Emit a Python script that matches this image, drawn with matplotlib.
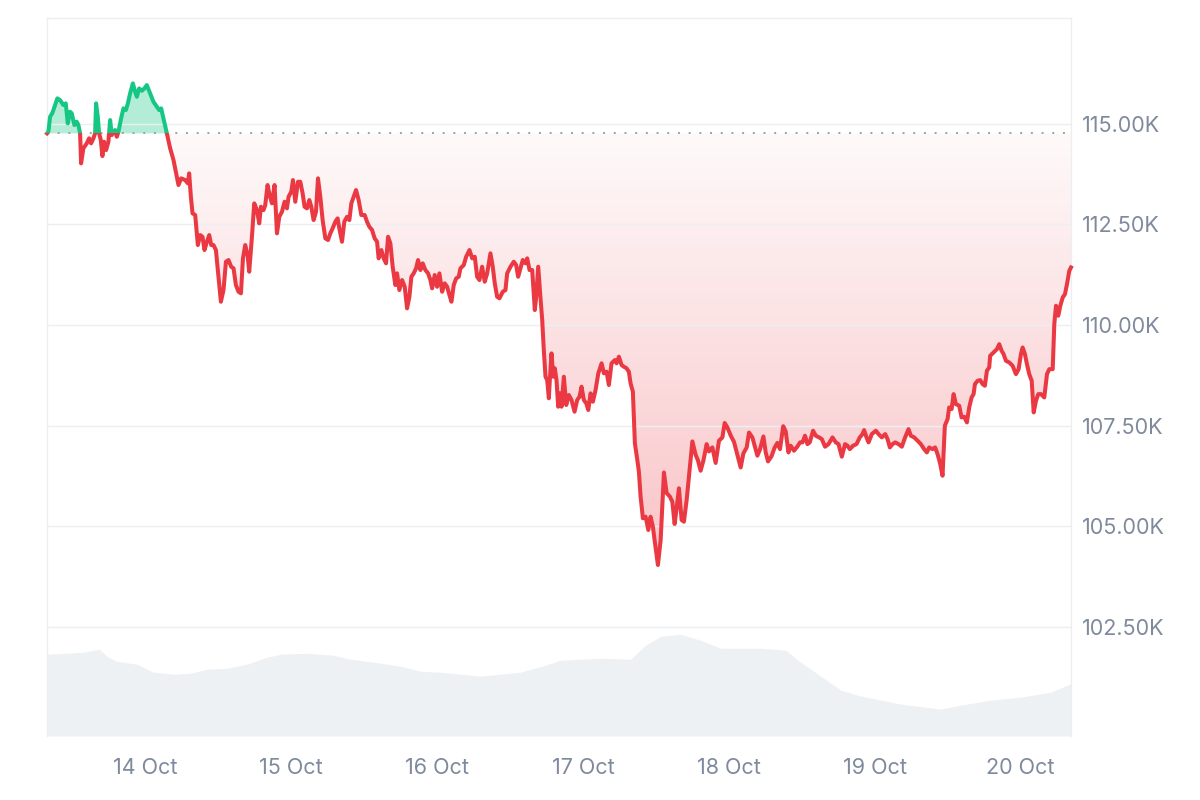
import numpy as np
import pandas as pd
import matplotlib
matplotlib.use("Agg")
import matplotlib.pyplot as plt
import matplotlib.dates as mdates
from matplotlib.patches import Rectangle
from matplotlib.colors import LinearSegmentedColormap

# price samples: hours since 13 Oct 00:00, price in USD
hours = [
    7.81, 8.03, 8.31, 8.68, 9.51, 9.95, 10.50, 10.89, 11.22, 11.60, 11.88, 12.31, 12.70, 12.97, 13.25,
    13.41, 13.79, 14.35, 14.73, 15.06, 15.44, 15.72, 15.88, 16.16, 16.38, 16.66, 16.92, 17.20, 17.53, 17.91,
    18.19, 18.47, 18.73, 19.01, 19.29, 19.56, 20.00, 20.38, 20.78, 21.11, 21.48, 21.93, 22.31, 22.59, 22.97,
    23.41, 23.84, 24.23, 24.78, 25.32, 25.88, 26.26, 26.59, 26.97, 27.53, 28.07, 28.62, 29.18, 29.44, 29.88,
    30.54, 30.99, 31.20, 31.48, 31.75, 32.19, 32.63, 33.01, 33.39, 33.72, 34.12, 34.50, 34.83, 35.20, 35.60,
    36.03, 36.42, 36.85, 37.25, 37.67, 38.12, 38.50, 38.89, 39.32, 39.72, 40.05, 40.43, 40.81, 41.08, 41.53,
    41.91, 42.35, 42.73, 43.01, 43.44, 43.72, 44.10, 44.43, 44.82, 45.25, 45.65, 46.03, 46.47, 46.90, 47.29,
    47.56, 48.00, 48.28, 48.66, 49.11, 49.49, 49.87, 50.19, 50.59, 50.97, 51.30, 51.68, 52.07, 52.40, 52.78,
    53.16, 53.61, 54.05, 54.43, 54.81, 55.25, 55.63, 55.96, 56.35, 56.73, 57.18, 57.56, 57.89, 58.27, 58.66,
    59.09, 59.53, 60.08, 60.47, 60.85, 61.30, 61.72, 62.12, 62.38, 62.83, 63.21, 63.60, 63.93, 64.31, 64.69,
    65.13, 65.41, 65.79, 66.24, 66.67, 67.06, 67.44, 67.77, 68.15, 68.54, 68.87, 69.25, 69.63, 70.07, 70.52,
    70.90, 71.18, 71.61, 72.00, 72.38, 72.83, 73.25, 73.65, 74.03, 74.36, 74.74, 75.14, 75.56, 75.84, 76.39,
    76.78, 77.33, 77.77, 78.20, 78.59, 78.97, 79.41, 79.84, 80.24, 80.78, 81.16, 81.49, 81.88, 82.26, 82.81,
    83.25, 83.53, 84.08, 84.62, 85.01, 85.34, 85.72, 86.10, 86.55, 86.83, 87.21, 87.65, 88.08, 88.31, 88.64,
    89.02, 89.30, 89.56, 89.84, 90.12, 90.39, 90.55, 90.83, 91.11, 91.37, 91.65, 91.93, 92.20, 92.48, 92.86,
    93.25, 93.68, 94.12, 94.62, 95.06, 95.44, 95.77, 96.15, 96.55, 96.88, 97.26, 97.64, 98.08, 98.53, 99.07,
    99.45, 99.89, 100.27, 100.71, 101.26, 101.54, 101.92, 102.36, 102.74, 103.18, 103.56, 103.84, 104.22, 104.55, 104.95,
    105.21, 105.49, 105.87, 106.31, 106.76, 107.13, 107.51, 107.79, 108.34, 108.79, 109.33, 109.77, 110.32, 110.71, 111.09,
    111.42, 111.80, 112.24, 112.62, 113.07, 113.45, 114.01, 114.55, 114.93, 115.37, 115.82, 116.36, 116.74, 117.30, 117.84,
    118.39, 118.95, 119.33, 119.77, 120.31, 120.86, 121.42, 121.96, 122.41, 122.95, 123.33, 123.89, 124.27, 124.71, 125.14,
    125.70, 126.08, 126.46, 127.02, 127.56, 128.00, 128.43, 128.96, 129.37, 129.82, 130.19, 130.74, 131.30, 131.73, 132.13,
    132.55, 132.95, 133.33, 133.87, 134.32, 134.86, 135.31, 135.85, 136.41, 137.07, 137.61, 138.06, 138.60, 139.14, 139.54,
    139.92, 140.46, 141.02, 141.56, 142.01, 142.27, 142.67, 143.00, 143.54, 144.20, 144.65, 145.19, 145.74, 146.13, 146.51,
    146.95, 147.38, 147.94, 148.48, 149.02, 149.58, 149.96, 150.51, 151.07, 151.61, 152.15, 152.60, 152.98, 153.53, 153.96,
    154.36, 154.74, 155.18, 155.56, 156.01, 156.27, 156.67, 157.00, 157.38, 157.92, 158.31, 158.74, 159.19, 159.57, 159.96,
    160.29, 160.51, 160.95, 161.38, 161.77, 162.15, 162.48, 162.86, 163.02, 163.58, 164.13, 164.51, 164.90, 165.23, 165.61,
    166.16, 166.71, 167.26, 167.70, 168.08, 168.36, 168.74, 169.07, 169.45, 169.85, 170.18, 170.56, 170.93, 171.38, 171.92,
    172.37, 172.75, 173.31, 173.57, 173.85, 174.23, 174.56, 174.96, 175.33, 175.66, 176.04, 176.32,
]
price = [
    114757, 114797, 115169, 115260, 115625, 115583, 115459, 115501, 115005, 115293, 115253, 114963, 115045, 114963, 114757,
    114012, 114385, 114509, 114633, 114509, 114633, 114757, 115501, 115169, 114757, 114590, 114193, 114548, 114342, 114548,
    115087, 114715, 114797, 114839, 114672, 114797, 115129, 115377, 115335, 115501, 115749, 115997, 115789, 115665, 115873,
    115814, 115873, 115955, 115749, 115541, 115417, 115335, 115377, 115129, 114757, 114385, 114094, 113680, 113474, 113640,
    113598, 113516, 113764, 113184, 112772, 112730, 111985, 112233, 112191, 111861, 112067, 112233, 111985, 111985, 111861,
    111198, 110578, 110868, 111570, 111613, 111446, 111407, 110992, 110826, 110787, 111655, 111985, 111737, 111323, 112191,
    113020, 112853, 112523, 112935, 112853, 112977, 113474, 113226, 113020, 113474, 112275, 112687, 112811, 113059, 112895,
    113184, 113308, 113598, 113059, 113556, 113556, 113268, 112935, 112895, 113102, 112935, 112605, 112811, 113640, 113184,
    112605, 112151, 112109, 112275, 112399, 112563, 112647, 112357, 112067, 112563, 112687, 112605, 113020, 113184, 113350,
    113102, 112730, 112730, 112563, 112439, 112357, 112151, 112067, 111655, 111861, 111655, 111531, 112191, 112027, 111447,
    110992, 111283, 110868, 111116, 110950, 110414, 110702, 111198, 111282, 111406, 111613, 111365, 111531, 111365, 111282,
    111116, 110910, 111241, 110950, 111282, 110826, 111034, 110950, 110745, 110578, 110992, 111158, 111198, 111406, 111489,
    111695, 111861, 111655, 111695, 111198, 111116, 111447, 111074, 111282, 111779, 111447, 111034, 110702, 110662, 110826,
    110868, 111282, 111447, 111571, 111489, 111198, 111406, 111613, 111531, 111655, 111365, 111365, 110372, 110702, 111447,
    110662, 110124, 109380, 108717, 108635, 108181, 108635, 109297, 108717, 108925, 108635, 107973, 108305, 107973, 108717,
    108015, 108263, 108139, 107848, 108139, 108221, 108469, 108139, 108057, 107891, 108305, 108097, 108387, 108801, 109050,
    108801, 108841, 108511, 109050, 109131, 109050, 109214, 109007, 108965, 108925, 108841, 108553, 108345, 107064, 106650,
    106360, 105739, 105203, 105243, 104913, 105243, 104995, 104665, 104044, 104665, 106340, 105831, 105739, 105615, 105062,
    105451, 105948, 105161, 105119, 105658, 106236, 107111, 106777, 106640, 106384, 106632, 107044, 106863, 106962, 106577,
    107129, 107211, 107569, 107459, 107260, 107099, 106774, 106464, 106816, 106960, 107332, 107208, 106999, 106757, 106913,
    107234, 106838, 106615, 106739, 106962, 107074, 106920, 107489, 107360, 106838, 107004, 106880, 106987, 107087, 107087,
    107253, 107044, 107087, 107377, 107253, 107211, 107169, 106980, 107044, 107211, 107087, 107044, 106732, 107044, 107005,
    106920, 107005, 107044, 107211, 107293, 107392, 107211, 107087, 107293, 107377, 107293, 107211, 107293, 107169, 106962,
    107044, 107087, 107044, 106980, 107211, 107417, 107253, 107211, 107129, 107044, 106920, 106838, 106962, 106920, 106962,
    106796, 106590, 106260, 107501, 107665, 107955, 107913, 108285, 108037, 107997, 107707, 107724, 107583, 107955, 108203,
    108285, 108533, 108617, 108632, 108533, 108493, 108865, 108947, 109237, 109319, 109401, 109525, 109361, 109277, 109113,
    109071, 108989, 108781, 108905, 109277, 109443, 109277, 109030, 108781, 108617, 107831, 108121, 108285, 108285, 108203,
    108781, 108905, 108905, 110022, 110478, 110230, 110478, 110685, 110767, 111015, 111347, 111429,
]

# 24h volume (billions USD)
vol_hours = [7.76, 11.06, 13.79, 16.43, 17.65, 19.29, 22.59, 25.32, 28.62, 31.37, 34.12, 37.41, 40.71, 44.00,
             46.19, 50.59, 54.97, 57.72, 61.56, 65.96, 69.25, 72.55, 79.14, 85.72, 89.84, 92.31, 98.90, 103.84,
             106.31, 108.78, 112.08, 115.37, 118.67, 125.26, 129.38, 131.85, 135.14, 138.44, 141.73, 145.02,
             148.32, 154.91, 158.20, 163.14, 168.08, 173.03, 176.49]
volume = [82, 83, 84, 87, 80, 75, 72, 64, 62, 63, 67, 68, 72, 79,
          82, 83, 81, 77, 74, 70, 65, 64, 60, 64, 71, 76, 78, 77,
          91, 100, 102, 96, 88, 88, 86, 74, 60, 46, 40, 36,
          32, 27, 31, 36, 39, 44, 53]

open_price = 114757
y_ticks = [102500, 105000, 107500, 110000, 112500, 115000]

GREEN = "#16c784"
RED = "#ea3943"
GRID = "#eceff2"
TEXT = "#808a9d"

plt.rcParams["font.family"] = ["Inter", "DejaVu Sans"]

start = pd.Timestamp("2025-10-13")
t = mdates.date2num(start + pd.to_timedelta(hours, unit="h"))
tv = mdates.date2num(start + pd.to_timedelta(vol_hours, unit="h"))
p = np.array(price, dtype=float)

fig = plt.figure(figsize=(12, 8), dpi=100)
ax = fig.add_axes([0.0392, 0.08, 0.8533, 0.8975])
ax2 = ax.twinx()

# volume in the back
ax2.fill_between(tv, volume, 0, color="#eef1f4", lw=0)
ax2.set_ylim(0, 720)
ax2.set_yticks([])
for s in ax2.spines.values():
    s.set_visible(False)
ax.set_zorder(ax2.get_zorder() + 1)
ax.patch.set_visible(False)

ymin, ymax = 99800, 117620
ax.set_ylim(ymin, ymax)
ax.set_xlim(t[0], t[-1])

# red gradient fill below the open price
fill = ax.fill_between(t, p, open_price, color="none", lw=0)
cmap = LinearSegmentedColormap.from_list(
    "redfade", [(0.918, 0.224, 0.263, 0.30), (0.918, 0.224, 0.263, 0.03)])
grad = np.linspace(0, 1, 256).reshape(-1, 1)
img = ax.imshow(grad, cmap=cmap, aspect="auto", origin="lower",
                extent=[t[0], t[-1], 104000, open_price], zorder=1)
img.set_clip_path(fill.get_paths()[0], transform=ax.transData)

# green fill above the open price
ax.fill_between(t, p, open_price, where=p >= open_price, interpolate=True,
                color=GREEN, alpha=0.32, lw=0, zorder=1)

# line, green above / red below the open price
up = ax.plot(t, p, color=GREEN, lw=2.9, zorder=3, solid_joinstyle="round")[0]
dn = ax.plot(t, p, color=RED, lw=2.9, zorder=3, solid_joinstyle="round")[0]
up.set_clip_path(Rectangle((t[0] - 1, open_price), 20, ymax, transform=ax.transData))
dn.set_clip_path(Rectangle((t[0] - 1, 0), 20, open_price, transform=ax.transData))

ax.axhline(open_price, color="#9aa1ad", lw=1.4, ls=(0, (1, 4.5)), zorder=2)

ax.yaxis.tick_right()
ax.set_yticks(y_ticks)
ax.set_yticklabels([f"{v / 1000:.2f}K" for v in y_ticks])
ax.grid(axis="y", color=GRID, lw=1, zorder=0)
ax.xaxis.set_major_locator(mdates.DayLocator())
ax.xaxis.set_major_formatter(mdates.DateFormatter("%d %b"))
ax.tick_params(axis="y", length=0, pad=8, labelsize=15.5, labelcolor=TEXT)
ax.tick_params(axis="x", length=0, pad=16, labelsize=15.5, labelcolor=TEXT)

for side in ["left", "right", "top"]:
    ax.spines[side].set_color(GRID)
    ax.spines[side].set_linewidth(1)
ax.spines["bottom"].set_visible(False)

fig.savefig("out.png", dpi=100)
